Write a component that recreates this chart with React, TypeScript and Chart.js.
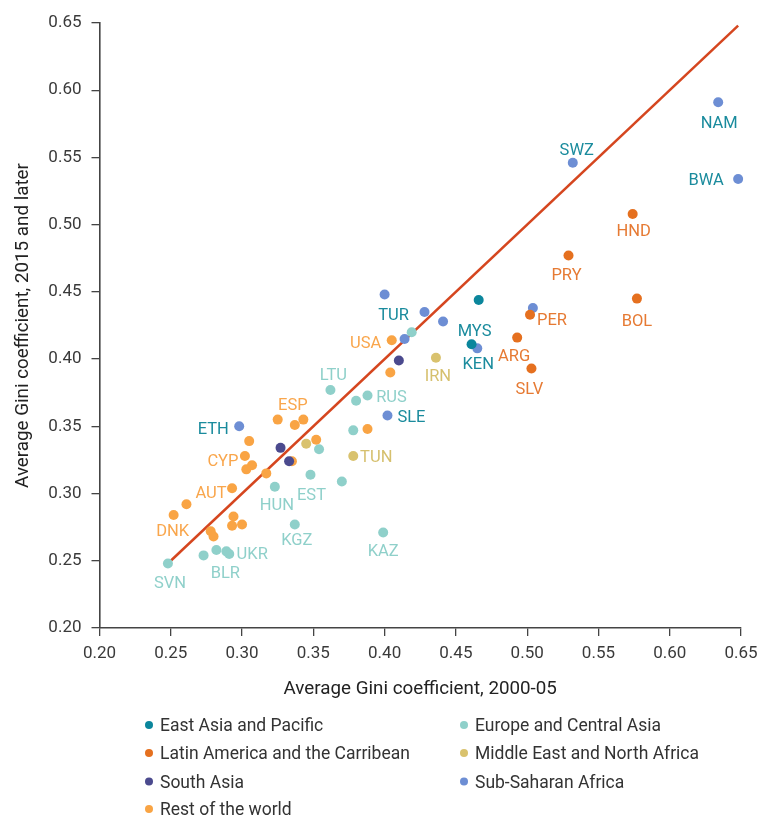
import React, { useEffect, useRef } from "react";
import { Chart, registerables } from "chart.js";

Chart.register(...registerables);

// ---------- data ----------
const regionNames = [
  "East Asia and Pacific",
  "Latin America and the Carribean",
  "South Asia",
  "Rest of the world",
  "Europe and Central Asia",
  "Middle East and North Africa",
  "Sub-Saharan Africa",
];

const eastAsiaX = [0.466, 0.461];
const eastAsiaY = [0.444, 0.411];
const eastAsiaLabels = ["", "MYS"];

const latamX = [0.574, 0.529, 0.577, 0.502, 0.493, 0.503];
const latamY = [0.508, 0.477, 0.445, 0.433, 0.416, 0.393];
const latamLabels = ["HND", "PRY", "BOL", "PER", "ARG", "SLV"];

const southAsiaX = [0.41, 0.327, 0.333];
const southAsiaY = [0.399, 0.334, 0.324];
const southAsiaLabels = ["", "", ""];

const restX = [0.405, 0.404, 0.388, 0.325, 0.337, 0.343, 0.352, 0.305, 0.302, 0.307, 0.303, 0.317, 0.293, 0.261, 0.252, 0.294, 0.293, 0.3, 0.278, 0.28, 0.335];
const restY = [0.414, 0.39, 0.348, 0.355, 0.351, 0.355, 0.34, 0.339, 0.328, 0.321, 0.318, 0.315, 0.304, 0.292, 0.284, 0.283, 0.276, 0.277, 0.272, 0.268, 0.324];
const restLabels = ["USA", "", "", "", "ESP", "", "", "", "CYP", "", "", "", "AUT", "", "DNK", "", "", "", "", "", ""];

const europeX = [0.419, 0.362, 0.38, 0.388, 0.378, 0.354, 0.348, 0.37, 0.323, 0.337, 0.399, 0.282, 0.289, 0.291, 0.273, 0.248];
const europeY = [0.42, 0.377, 0.369, 0.373, 0.347, 0.333, 0.314, 0.309, 0.305, 0.277, 0.271, 0.258, 0.257, 0.255, 0.254, 0.248];
const europeLabels = ["", "LTU", "", "RUS", "", "", "EST", "", "HUN", "KGZ", "KAZ", "", "BLR", "UKR", "", "SVN"];

const menaX = [0.436, 0.378, 0.345];
const menaY = [0.401, 0.328, 0.337];
const menaLabels = ["IRN", "TUN", ""];

const ssaX = [0.634, 0.648, 0.532, 0.298, 0.465, 0.504, 0.402, 0.4, 0.428, 0.441, 0.414];
const ssaY = [0.591, 0.534, 0.546, 0.35, 0.408, 0.438, 0.358, 0.448, 0.435, 0.428, 0.415];
const ssaLabels = ["NAM", "BWA", "SWZ", "ETH", "KEN", "", "SLE", "TUR", "", "", ""];

const fitLineX = [0.25, 0.648];
const fitLineY = [0.25, 0.648];

const tickValues = [0.2, 0.25, 0.3, 0.35, 0.4, 0.45, 0.5, 0.55, 0.6, 0.65];

const xTitle = "Average Gini coefficient, 2000-05";
const yTitle = "Average Gini coefficient, 2015 and later";

// ---------- styling ----------
const pointColors = ["#0b869c", "#e5701f", "#4b4a8e", "#f9a444", "#8fd0ca", "#d9c26e", "#6d8ed4"];
const labelColors = ["#1a8b9d", "#e67a33", "#4b4a8e", "#f9a64c", "#8fd0ca", "#d6c06e", "#1a8b9d"];
const labelOffsets: Record<string, [number, number]> = {
  NAM: [1, 20], BWA: [-32, 0], SWZ: [4, -14], ETH: [-26, 2], KEN: [1, 15], SLE: [24, 1], TUR: [9, 20],
  MYS: [3, -14], HND: [1, 16], PRY: [-2, 19], BOL: [0, 21], PER: [22, 4], ARG: [-3, 17], SLV: [-2, 20],
  USA: [-26, 2], ESP: [-2, -21], CYP: [-22, 4], AUT: [-21, 4], DNK: [-1, 15],
  LTU: [3, -16], RUS: [24, 1], EST: [1, 19], HUN: [2, 17], KGZ: [2, 15], KAZ: [0, 18], BLR: [-1, 21],
  UKR: [23, -1], SVN: [2, 19], IRN: [2, 17], TUN: [23, 0],
};
const FONT = "Roboto, 'Open Sans', sans-serif";

const seriesX = [eastAsiaX, latamX, southAsiaX, restX, europeX, menaX, ssaX];
const seriesY = [eastAsiaY, latamY, southAsiaY, restY, europeY, menaY, ssaY];
const seriesLabels = [eastAsiaLabels, latamLabels, southAsiaLabels, restLabels, europeLabels, menaLabels, ssaLabels];

const labelPlugin = {
  id: "pointLabels",
  afterDatasetsDraw(chart: any) {
    const ctx = chart.ctx;
    const xs = chart.scales.x;
    const ys = chart.scales.y;
    ctx.save();
    ctx.font = `16.5px ${FONT}`;
    ctx.textAlign = "center";
    ctx.textBaseline = "alphabetic";
    seriesX.forEach((arr, si) => {
      arr.forEach((xv, i) => {
        const code = seriesLabels[si][i];
        if (!code) return;
        const off = labelOffsets[code] || [0, 16];
        const px = xs.getPixelForValue(xv) + off[0];
        const py = ys.getPixelForValue(seriesY[si][i]) + off[1];
        ctx.fillStyle = labelColors[si];
        ctx.fillText(code, px, py + 5.9);
      });
    });
    ctx.restore();
  },
  afterDraw(chart: any) {
    const ctx = chart.ctx;
    ctx.save();
    ctx.font = `17.5px ${FONT}`;
    ctx.textAlign = "left";
    ctx.textBaseline = "alphabetic";
    const rows = [725, 753, 781.5, 809];
    const cols = [[149, 160], [464, 475]];
    const layout = [[0, 0], [0, 1], [0, 2], [0, 3], [1, 0], [1, 1], [1, 2]];
    regionNames.forEach((name, i) => {
      const [c, r] = layout[i];
      const y = rows[r];
      ctx.fillStyle = pointColors[i];
      ctx.beginPath();
      ctx.arc(cols[c][0], y, 4, 0, Math.PI * 2);
      ctx.fill();
      ctx.fillStyle = "#333333";
      ctx.fillText(name, cols[c][1], y + 6.2);
    });
    ctx.restore();
  },
};

export default function App() {
  const ref = useRef<HTMLCanvasElement | null>(null);
  useEffect(() => {
    document.body.style.margin = "0";
    const canvas = ref.current!;
    const datasets: any[] = seriesX.map((arr, si) => ({
      type: "scatter",
      label: regionNames[si],
      data: arr.map((xv, i) => ({ x: xv, y: seriesY[si][i] })),
      backgroundColor: pointColors[si],
      borderWidth: 0,
      pointRadius: 5,
      clip: false,
      order: 1,
    }));
    datasets.unshift({
      type: "line",
      label: "45-degree line",
      data: fitLineX.map((xv, i) => ({ x: xv, y: fitLineY[i] })),
      borderColor: "#d5461f",
      borderWidth: 2.5,
      pointRadius: 0,
      fill: false,
      clip: false,
      order: 10,
    });
    const axisCommon = (title: string, isX: boolean) => ({
      type: "linear",
      min: 0.2,
      max: 0.65,
      afterBuildTicks: (scale: any) => {
        scale.ticks = tickValues.map((v) => ({ value: v }));
      },
      afterFit: (scale: any) => {
        if (isX) {
          scale.height = 82;
          scale.paddingLeft = 0;
          scale.paddingRight = 0;
        } else {
          scale.width = 99.5;
          scale.paddingTop = 0;
          scale.paddingBottom = 0;
        }
      },
      ticks: {
        callback: (v: any) => Number(v).toFixed(2),
        font: { family: FONT, size: 17 },
        color: "#3a3a3a",
        padding: isX ? 8 : 10,
        maxRotation: 0,
        autoSkip: false,
      },
      grid: {
        drawOnChartArea: false,
        drawTicks: true,
        tickLength: 8,
        color: "#444444",
        lineWidth: 1.3,
      },
      border: { display: true, color: "#444444", width: 1.6 },
      title: {
        display: true,
        text: title,
        color: "#222222",
        font: { family: FONT, size: 18.8 },
        padding: isX ? { top: 0, bottom: 9 } : { top: 12.5, bottom: 0 },
      },
    });
    const chart = new Chart(canvas, {
      type: "scatter",
      data: { datasets },
      options: {
        responsive: false,
        animation: false,
        devicePixelRatio: 1,
        layout: { padding: { left: 0, right: 18, top: 23, bottom: 108 } },
        plugins: { legend: { display: false }, tooltip: { enabled: false } },
        scales: { x: axisCommon(xTitle, true) as any, y: axisCommon(yTitle, false) as any },
      },
      plugins: [labelPlugin],
    } as any);
    return () => chart.destroy();
  }, []);
  return <canvas ref={ref} width={759} height={818} style={{ display: "block" }} />;
}
